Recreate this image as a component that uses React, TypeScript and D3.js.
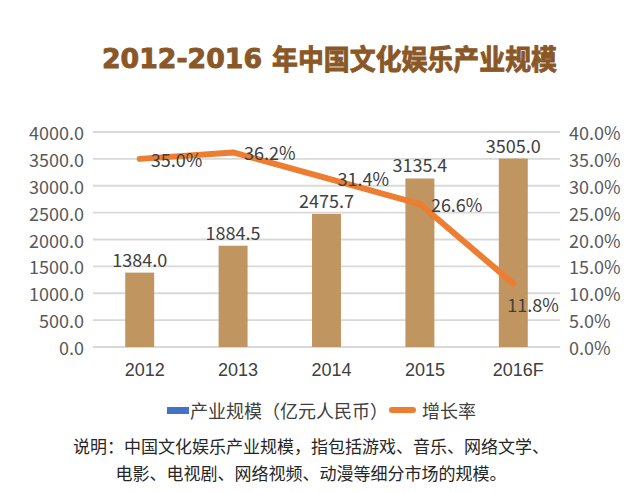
import React from "react";
import * as d3 from "d3";

const categories = ["2012", "2013", "2014", "2015", "2016F"];
const scaleValues = [1384.0, 1884.5, 2475.7, 3135.4, 3505.0];
const growthRates = [0.35, 0.362, 0.314, 0.266, 0.118];
const leftTicks = [0, 500, 1000, 1500, 2000, 2500, 3000, 3500, 4000];
const rightTicks = [0, 0.05, 0.1, 0.15, 0.2, 0.25, 0.3, 0.35, 0.4];
const titleYears = "2012-2016";
const titleText = "年中国文化娱乐产业规模";
const legendBar = "产业规模（亿元人民币）";
const legendLine = "增长率";
const noteLines = [
  "说明：中国文化娱乐产业规模，指包括游戏、音乐、网络文学、",
  "电影、电视剧、网络视频、动漫等细分市场的规模。",
];

const W = 640;
const H = 492;
const plotLeft = 93;
const plotRight = 560;
const plotTop = 132;
const plotBottom = 347;
const FONT = "'Noto Sans CJK SC', 'Noto Sans', sans-serif";
const BAR_COLOR = "#C09560";
const LINE_COLOR = "#ED7D31";
const GRID = "#D9D9D9";
const TITLE_COLOR = "#8A5727";

export default function App() {
  const x = d3
    .scaleBand<string>()
    .domain(categories)
    .range([plotLeft, plotRight])
    .paddingInner(0.69)
    .paddingOuter(0.345);
  const y = d3.scaleLinear().domain([0, 4000]).range([plotBottom, plotTop]);
  const y2 = d3.scaleLinear().domain([0, 0.4]).range([plotBottom, plotTop]);
  const cx = (c: string) => (x(c) as number) + x.bandwidth() / 2;

  const line = d3
    .line<number>()
    .x((_, i) => cx(categories[i]))
    .y((d) => y2(d));

  const fmt1 = d3.format(".1f");
  const pct = (v: number) => (v * 100).toFixed(1) + "%";

  return (
    <svg
      width={W}
      height={H}
      style={{ position: "absolute", left: 0, top: 0, background: "#fff" }}
    >
      {/* Title */}
      <text
        x={102}
        y={58}
        dominantBaseline="central"
        fill={TITLE_COLOR}
        stroke={TITLE_COLOR}
        strokeWidth={0.9}
        fontWeight="bold"
        fontSize={28}
        fontFamily={FONT}
      >
        <tspan
          x={102}
          fontFamily="'DejaVu Sans', sans-serif"
          fontSize={27}
          textLength={160}
          lengthAdjust="spacingAndGlyphs"
        >
          {titleYears}
        </tspan>
        <tspan x={272} textLength={285} lengthAdjust="spacingAndGlyphs">
          {titleText}
        </tspan>
      </text>

      {/* Grid */}
      {leftTicks.map((t) => (
        <line
          key={"g" + t}
          x1={plotLeft}
          x2={plotRight}
          y1={y(t)}
          y2={y(t)}
          stroke={GRID}
          strokeWidth={1.8}
        />
      ))}

      {/* Left axis labels */}
      {leftTicks.map((t) => (
        <text
          key={"l" + t}
          x={84}
          y={y(t)}
          textAnchor="end"
          dominantBaseline="central"
          fontFamily={FONT}
          fontSize={18}
          fill="#595959"
        >
          {fmt1(t)}
        </text>
      ))}

      {/* Right axis labels */}
      {rightTicks.map((t) => (
        <text
          key={"r" + t}
          x={569}
          y={y2(t)}
          textAnchor="start"
          dominantBaseline="central"
          fontFamily={FONT}
          fontSize={18}
          fill="#595959"
        >
          {pct(t)}
        </text>
      ))}

      {/* Bars */}
      {scaleValues.map((v, i) => (
        <rect
          key={"b" + i}
          x={x(categories[i])}
          y={y(v)}
          width={x.bandwidth()}
          height={plotBottom - y(v)}
          fill={BAR_COLOR}
        />
      ))}

      {/* Bar labels */}
      {scaleValues.map((v, i) => (
        <text
          key={"bl" + i}
          x={cx(categories[i])}
          y={y(v) - 14}
          textAnchor="middle"
          dominantBaseline="central"
          fontFamily={FONT}
          fontSize={18}
          fill="#404040"
        >
          {fmt1(v)}
        </text>
      ))}

      {/* Growth line */}
      <path
        d={line(growthRates) || ""}
        fill="none"
        stroke={LINE_COLOR}
        strokeWidth={6}
        strokeLinecap="round"
        strokeLinejoin="round"
      />

      {/* Line labels */}
      {growthRates.map((v, i) => {
        const last = i === growthRates.length - 1;
        const px = cx(categories[i]);
        const py = y2(v);
        return (
          <text
            key={"ll" + i}
            x={last ? px - 6 : px + 11}
            y={last ? py + 20 : py}
            textAnchor="start"
            dominantBaseline="central"
            fontFamily={FONT}
            fontSize={18}
            fill="#404040"
          >
            {pct(v)}
          </text>
        );
      })}

      {/* X axis labels */}
      {categories.map((c) => (
        <text
          key={"x" + c}
          x={cx(c) + 5}
          y={370}
          textAnchor="middle"
          dominantBaseline="central"
          fontFamily="'Liberation Sans', Arial, sans-serif"
          fontSize={18}
          fill="#404040"
        >
          {c}
        </text>
      ))}

      {/* Legend */}
      <rect x={167} y={407} width={22} height={7} fill="#4472C4" />
      <text
        x={190}
        y={410}
        dominantBaseline="central"
        fontFamily={FONT}
        fontSize={18}
        fill="#404040"
      >
        {legendBar}
      </text>
      <line
        x1={392}
        x2={413}
        y1={410}
        y2={410}
        stroke={LINE_COLOR}
        strokeWidth={6}
        strokeLinecap="round"
      />
      <text
        x={422}
        y={410}
        dominantBaseline="central"
        fontFamily={FONT}
        fontSize={18}
        fill="#404040"
      >
        {legendLine}
      </text>

      {/* Note */}
      {noteLines.map((t, i) => (
        <text
          key={"n" + i}
          x={311}
          y={445 + i * 27}
          textAnchor="middle"
          dominantBaseline="central"
          fontFamily={FONT}
          fontSize={17}
          fill="#262626"
        >
          {t}
        </text>
      ))}
    </svg>
  );
}
